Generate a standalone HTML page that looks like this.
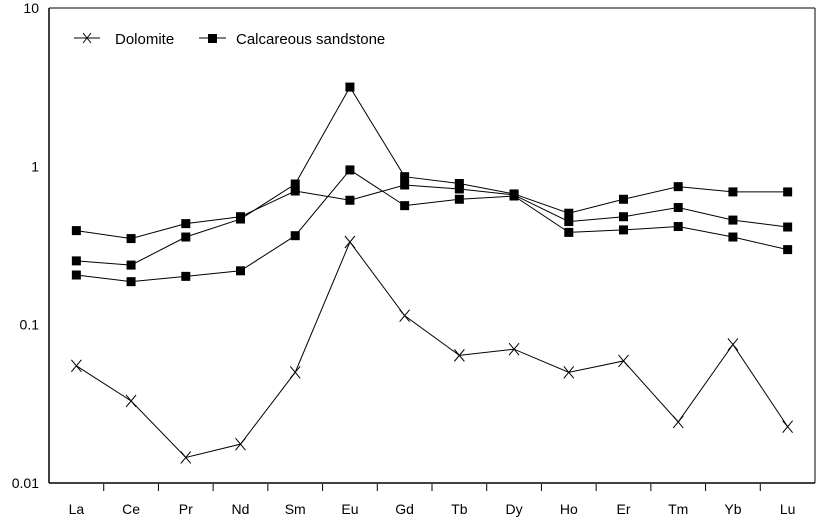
<!DOCTYPE html>
<html><head><meta charset="utf-8"><style>
html,body{margin:0;padding:0;background:#fff}
svg{display:block;font-family:"Liberation Sans",Arial,sans-serif}
</style></head><body>
<svg id="chart" width="819" height="520" xmlns="http://www.w3.org/2000/svg">
<rect x="0" y="0" width="819" height="520" fill="#fff"/>
<g id="frame">
<line x1="49" y1="8" x2="49" y2="483" stroke="#000" stroke-width="1.5"/>
<line x1="49" y1="483" x2="815" y2="483" stroke="#000" stroke-width="1.5"/>
<line x1="49" y1="8" x2="815" y2="8" stroke="#000" stroke-width="1"/>
<line x1="815" y1="8" x2="815" y2="483" stroke="#000" stroke-width="1"/>
</g>
<g id="ticks"></g>
<g id="series"></g>
<g>
<g>
<line x1="74" y1="38" x2="100" y2="38" stroke="#000" stroke-width="1"/>
<path d="M83 33 L91 43 M91 33 L83 43" stroke="#000" stroke-width="1"/>
<text x="115" y="44" font-size="15">Dolomite</text>
</g>
<g>
<line x1="199" y1="38" x2="226" y2="38" stroke="#000" stroke-width="1"/>
<rect x="208" y="34" width="9" height="9" fill="#000"/>
<text x="236" y="44" font-size="15">Calcareous sandstone</text>
</g>
</g>
</svg>
<script>
const categories=["La","Ce","Pr","Nd","Sm","Eu","Gd","Tb","Dy","Ho","Er","Tm","Yb","Lu"];
const yTicks=[10,1,0.1,0.01];
const yTickLabels=["10","1","0.1","0.01"];
const dolomite=[0.055,0.033,0.0145,0.0176,0.05,0.333,0.114,0.064,0.07,0.05,0.059,0.0243,0.075,0.0227];
const sandstoneA=[0.393,0.35,0.435,0.481,0.699,0.611,0.763,0.72,0.66,0.448,0.481,0.55,0.458,0.414];
const sandstoneB=[0.253,0.238,0.358,0.465,0.774,3.17,0.861,0.78,0.67,0.506,0.62,0.745,0.69,0.69];
const sandstoneC=[0.206,0.187,0.202,0.219,0.365,0.95,0.565,0.62,0.65,0.383,0.397,0.417,0.358,0.298];

const NS="http://www.w3.org/2000/svg";
const X0=49,X1=815,Y0=483,DEC=158.3;
const step=(X1-X0)/categories.length;
function xs(i){return X0+step*(i+0.5);}
function ys(v){return Y0-(Math.log10(v)+2)*DEC;}
function mk(tag,attrs,parent){const e=document.createElementNS(NS,tag);for(const k in attrs)e.setAttribute(k,attrs[k]);parent.appendChild(e);return e;}
const tg=document.getElementById('ticks');
categories.forEach((c,i)=>{
  if(i>0){const t=mk('line',{x1:X0+step*i,y1:Y0+1,x2:X0+step*i,y2:Y0+8,stroke:'#000','stroke-width':1},tg);
  
  }
  const l=mk('text',{x:xs(i),y:514,'font-size':14,'text-anchor':'middle'},tg);
  l.textContent=c;
  
  
});
yTicks.forEach((v,i)=>{
  const l=mk('text',{x:39,y:ys(v)+5,'font-size':14,'text-anchor':'end'},tg);
  l.textContent=yTickLabels[i];
  
  
});
const sg=document.getElementById('series');
function drawLine(arr,name){
  const p=mk('polyline',{points:arr.map((v,i)=>xs(i)+','+ys(v)).join(' '),fill:'none',stroke:'#000','stroke-width':1},sg);
  
  
}
[sandstoneA,sandstoneB,sandstoneC].forEach((arr,k)=>{
  drawLine(arr,'sandstone-'+k);
  arr.forEach((v,i)=>{
    const r=mk('rect',{x:xs(i)-4.5,y:ys(v)-4.5,width:9,height:9,fill:'#000'},sg);
    
    
  });
});
drawLine(dolomite,'dolomite');
dolomite.forEach((v,i)=>{
  const x=xs(i),y=ys(v);
  const p=mk('path',{d:`M${x-5} ${y-6} L${x+5} ${y+6} M${x+5} ${y-6} L${x-5} ${y+6}`,stroke:'#000','stroke-width':1,fill:'none'},sg);
  
  
});
</script>
</body></html>
